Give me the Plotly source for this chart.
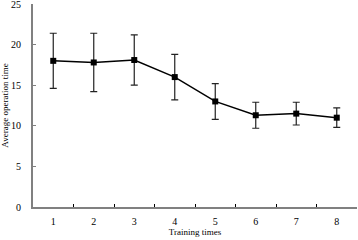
import plotly.graph_objects as go

categories = ["1", "2", "3", "4", "5", "6", "7", "8"]
mean_time = [18.0, 17.8, 18.1, 16.0, 13.0, 11.3, 11.5, 11.0]
err_time = [3.4, 3.6, 3.1, 2.8, 2.2, 1.6, 1.4, 1.2]
y_ticks = [0, 5, 10, 15, 20, 25]

font_family = "Liberation Serif, Times New Roman, serif"

fig = go.Figure()
fig.add_trace(go.Scatter(
    x=categories, y=mean_time,
    mode="lines+markers",
    line=dict(color="black", width=1.5),
    marker=dict(symbol="square", size=6, color="black"),
    error_y=dict(type="data", array=err_time, visible=True,
                 color="#222222", thickness=1.2, width=3.5),
    showlegend=False,
))

fig.update_layout(
    width=358, height=240,
    margin=dict(l=33, r=1, t=4, b=33, autoexpand=False),
    paper_bgcolor="white", plot_bgcolor="white",
    font=dict(family=font_family, size=10, color="black"),
)
fig.update_xaxes(
    type="category", range=[-0.5, 7.5], automargin=False,
    tickson="boundaries", ticks="inside", ticklen=3, tickcolor="black",
    showline=True, linecolor="#808080", linewidth=2,
    showgrid=False, zeroline=False,
    ticklabelstandoff=4,
    title=dict(text="Training times", font=dict(size=9), standoff=0),
)
fig.update_yaxes(
    range=[0, 25], tickvals=y_ticks, automargin=False,
    ticklabeloverflow="allow",
    ticks="inside", ticklen=3, tickcolor="#808080",
    showline=True, linecolor="#808080", linewidth=2,
    showgrid=False, zeroline=False,
    ticklabelstandoff=8,
    title=dict(text="Average operation time", font=dict(size=9), standoff=1),
)

fig.write_html(
    "out.html",
    config={"displayModeBar": False},
    post_script="document.body.style.margin='0';document.body.style.padding='0';",
)
